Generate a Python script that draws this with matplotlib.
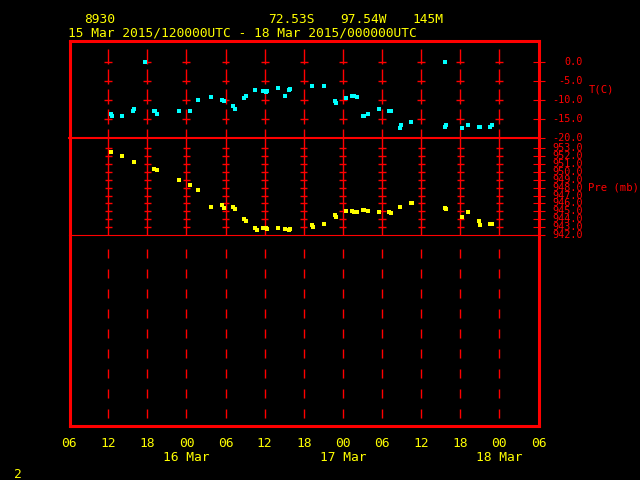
import matplotlib
matplotlib.use("Agg")
import matplotlib.pyplot as plt

# hours since 15 Mar 2015 06 UTC
temp_hours = [6.4, 6.6, 8.2, 9.8, 10.0, 11.7, 13.1, 13.2, 13.5, 16.8, 18.5, 19.8,
              21.8, 23.5, 23.7, 25.2, 25.4, 26.9, 27.1, 28.6, 29.8, 30.2, 30.4,
              32.0, 33.2, 33.7, 33.9, 37.2, 39.1, 40.8, 40.9, 42.5, 43.4, 43.7,
              44.2, 45.1, 45.2, 45.8, 47.5, 49.1, 49.4, 50.8, 50.9, 52.5, 57.7,
              57.7, 57.8, 60.3, 61.2, 62.9, 63.1, 64.6, 64.8]
temp_vals = [-13.8, -14.3, -14.1, -13.0, -12.5, 0.0, -12.8, -13.0, -13.8, -13.0,
             -13.0, -9.9, -9.1, -9.9, -10.2, -11.7, -12.5, -9.4, -8.9, -7.3,
             -7.6, -7.8, -7.6, -6.8, -8.9, -7.3, -7.0, -6.3, -6.3, -10.4, -10.7,
             -9.4, -8.9, -8.9, -9.1, -14.3, -14.1, -13.6, -12.5, -12.8, -13.0,
             -17.5, -16.7, -15.9, 0.0, -17.0, -16.7, -17.5, -16.7, -17.0, -17.0,
             -17.0, -16.7]

pres_hours = [6.5, 8.2, 9.9, 13.1, 13.5, 16.8, 18.5, 19.8, 21.8, 23.5, 23.7,
              25.2, 25.4, 26.9, 27.1, 28.6, 28.8, 29.8, 30.2, 30.4, 32.0, 33.2,
              33.7, 33.9, 37.2, 37.4, 39.1, 40.8, 40.9, 42.5, 43.4, 43.7, 44.2,
              45.1, 45.2, 45.8, 47.5, 49.1, 49.4, 50.8, 52.5, 52.6, 57.7, 57.8,
              60.3, 61.2, 62.9, 63.1, 64.6, 64.8]
pres_vals = [952.5, 952.0, 951.3, 950.4, 950.3, 949.0, 948.4, 947.7, 945.5,
             945.8, 945.4, 945.5, 945.3, 944.0, 943.8, 942.9, 942.6, 942.9,
             942.9, 942.8, 942.9, 942.8, 942.6, 942.8, 943.3, 943.0, 943.4,
             944.5, 944.3, 945.0, 945.0, 944.9, 944.9, 945.2, 945.2, 945.0,
             944.9, 944.9, 944.8, 945.5, 946.0, 946.0, 945.4, 945.3, 944.3,
             944.9, 943.8, 943.3, 943.4, 943.4]

time_ticks = list(range(0, 73, 6))
time_labels = ["06", "12", "18", "00\n16 Mar", "06", "12", "18", "00\n17 Mar",
               "06", "12", "18", "00\n18 Mar", "06"]
temp_levels = [0, -5, -10, -15, -20]
pres_levels = list(range(942, 954))

RED = "#ff0000"
YEL = "#ffff00"
CYAN = "#00ffff"
FONT = "DejaVu Sans Mono"

W, H = 640, 480
fig = plt.figure(figsize=(6.4, 4.8), dpi=100, facecolor="black")


def px_axes(x0, y0, x1, y1):
    return fig.add_axes([x0 / W, 1 - y1 / H, (x1 - x0) / W, (y1 - y0) / H])


X0, X1 = 69, 538.5
ax_t = px_axes(X0, 41, X1, 138)
ax_p = px_axes(X0, 138, X1, 235)
ax_l = px_axes(X0, 235, X1, 426)
for ax in (ax_t, ax_p, ax_l):
    ax.patch.set_visible(False)
    ax.set_xlim(0, 72)
    for s in ax.spines.values():
        s.set_visible(False)
    ax.tick_params(left=False, labelleft=False, bottom=False, labelbottom=False)

ax_t.set_ylim(-20, 5.5)
ax_p.set_ylim(942, 954.3)
ax_l.set_ylim(0, 1)

inner = time_ticks[1:-1]

# temperature panel grid
for x in inner:
    ax_t.plot([x, x], [3.4, -20], color=RED, lw=1.0, ls=(0, (10.8, 3.6)))
    ax_t.hlines(temp_levels[:-1], x - 0.6, x + 0.6, color=RED, lw=1.0)

# pressure panel grid
for x in inner:
    ax_p.plot([x, x], [954.3, 942], color=RED, lw=1.0)
    ax_p.hlines(pres_levels[1:], x - 0.55, x + 0.55, color=RED, lw=1.0)

# lower panel dashed lines
for x in inner:
    ax_l.plot([x, x], [(426 - 249) / 191, 0], color=RED, lw=1.0,
              ls=(0, (6.5, 7.9)))

ax_t.axhline(-20, color=RED, lw=1.5, clip_on=False, zorder=5)
ax_l.axhline(1, color=RED, lw=0.8, clip_on=False, zorder=5)

# data
ax_t.plot(temp_hours, temp_vals, ls="none", marker="s", ms=3.2, mew=0, color=CYAN)
ax_p.plot(pres_hours, pres_vals, ls="none", marker="s", ms=3.2, mew=0, color=YEL)

# right axis ticks and labels
lab_x = (583 - X0) / (X1 - X0)
for ax, levels in ((ax_t, temp_levels), (ax_p, pres_levels)):
    ax.set_yticks(levels)
    ax.tick_params(axis="y", right=True, labelright=False, direction="inout",
                   length=8, width=0.8, color=RED)
    tr = ax.get_yaxis_transform()
    for v in levels:
        ax.text(lab_x, v, "{:.1f}".format(v), transform=tr, ha="right",
                va="center", color=RED, fontsize=7.3, family=FONT, clip_on=False)

ax_t.text((589 - X0) / (X1 - X0), -7.3, "T(C)", transform=ax_t.get_yaxis_transform(),
          ha="left", va="center", color=RED, fontsize=7.6, family=FONT)
ax_p.text((588 - X0) / (X1 - X0), 948.0, "Pre (mb)", transform=ax_p.get_yaxis_transform(),
          ha="left", va="center", color=RED, fontsize=7.6, family=FONT)

# time axis labels
ax_l.set_xticks(time_ticks)
ax_l.set_xticklabels(time_labels)
ax_l.tick_params(axis="x", bottom=True, labelbottom=True, length=0, pad=8,
                 labelcolor=YEL, labelsize=9.3)
for t in ax_l.get_xticklabels():
    t.set_family(FONT)
    t.set_linespacing(1.05)

# outer box
box = px_axes(X0 + 1, 41, X1, 426)
box.patch.set_visible(False)
box.set_xticks([])
box.set_yticks([])
for s in box.spines.values():
    s.set_color(RED)
    s.set_linewidth(2.2)

# header text
def ftext(x, y, s):
    fig.text(x / W, 1 - y / H, s, color=YEL, fontsize=9.3, family=FONT,
             ha="left", va="baseline")

ftext(84, 23, "8930")
ftext(268, 23, "72.53S")
ftext(340, 23, "97.54W")
ftext(412, 23, "145M")
ftext(68, 36, "15 Mar 2015/120000UTC - 18 Mar 2015/000000UTC")
ftext(14, 478, "2")

fig.savefig("out.png", dpi=100, facecolor="black")
